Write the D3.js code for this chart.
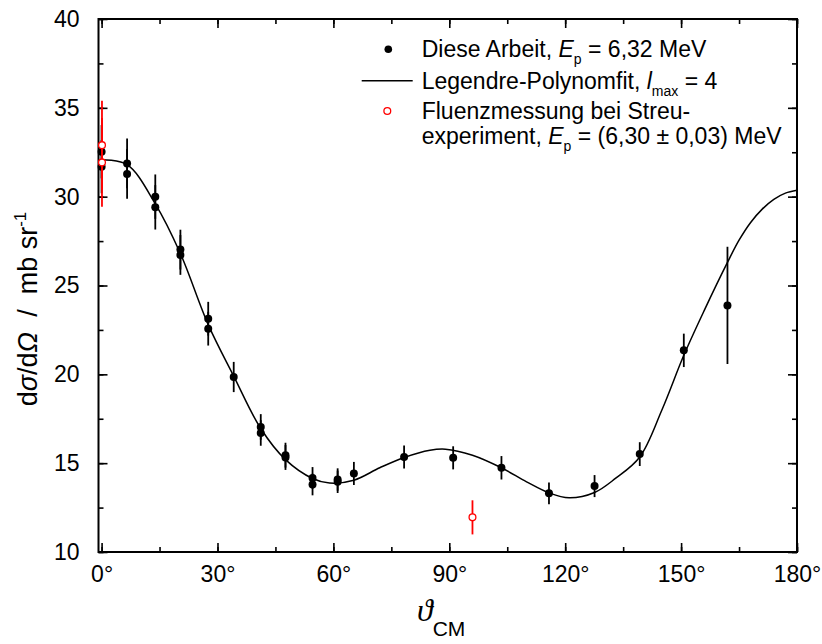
<!DOCTYPE html>
<html>
<head>
<meta charset="utf-8">
<script src="https://cdn.jsdelivr.net/npm/d3@7"></script>
<style>
  html, body { margin: 0; padding: 0; background: #fff; }
  svg { display: block; font-family: "Liberation Sans", Arial, sans-serif; }
</style>
</head>
<body>
<svg id="chart" width="822" height="644"></svg>
<script>
// Measured cross sections, this work (E_p = 6.32 MeV)
const angles = [0, 0, 6.6, 6.6, 13.9, 13.9, 20.4, 20.4, 27.6, 27.6, 34.2, 41.2, 41.2,
  47.6, 47.6, 54.6, 54.6, 61.1, 61.1, 65.3, 78.3, 91.0, 103.5, 115.8, 127.6, 139.3, 150.7, 162.0];
const values = [32.53, 31.69, 31.87, 31.28, 30.0, 29.4, 27.02, 26.72, 23.13, 22.57, 19.85, 17.04, 16.70,
  15.45, 15.32, 14.17, 13.80, 14.08, 13.95, 14.42, 15.35, 15.30, 14.74, 13.30, 13.71, 15.51, 21.35, 23.88];
const errors = [1.5, 1.5, 1.4, 1.4, 1.25, 1.25, 1.12, 1.12, 0.95, 0.95, 0.85, 0.72, 0.72,
  0.7, 0.7, 0.61, 0.61, 0.63, 0.63, 0.65, 0.65, 0.65, 0.66, 0.61, 0.62, 0.67, 0.94, 3.3];

// Fluence measurements during the scattering experiment
const fluenceAngles = [0.1, 0.1, 96.0];
const fluenceValues = [32.9, 31.93, 11.95];
const fluenceErrors = [2.5, 2.5, 0.96];

// Legendre polynomial fit (l_max = 4), sampled along the angle axis
const fitAngles = [0, 6.6, 13.9, 20.4, 27.6, 34.2, 41.2, 47.6, 54.6, 59, 65.3, 72, 78.3, 85, 89,
  96, 103.5, 110, 115.8, 121, 127.6, 133, 139.3, 145, 150.7, 156, 162, 165, 168, 171, 174, 177, 180];
const fitValues = [32.08, 31.8, 29.6, 26.8, 22.8, 19.9, 16.95, 15.2, 14.14, 13.88, 14.04, 14.74, 15.32, 15.73, 15.79,
  15.45, 14.74, 13.95, 13.33, 13.05, 13.35, 14.14, 15.35, 17.98, 21.07, 23.6, 26.3, 27.55, 28.55, 29.3, 29.85, 30.2, 30.36];

const xTicks = [0, 30, 60, 90, 120, 150, 180];
const yTicks = [10, 15, 20, 25, 30, 35, 40];

const svg = d3.select("#chart");
const plotLeft = 98.5, plotRight = 797, plotTop = 19, plotBottom = 552;

const x = d3.scaleLinear().domain([-0.8, 180]).range([plotLeft, plotRight]);
const y = d3.scaleLinear().domain([10, 40]).range([plotBottom, plotTop]);

// Axes with inward ticks on all four sides
const xMinor = d3.range(0, 181, 15);
const yMinor = d3.range(10, 40.01, 2.5);

function addTicks(axisGen, transform) {
  const g = svg.append("g").attr("transform", transform).call(axisGen);
  g.select(".domain").remove();
  g.selectAll("line").attr("stroke", "#000").attr("stroke-width", 1.6);
  return g;
}

// minor ticks
addTicks(d3.axisBottom(x).tickValues(xMinor).tickSize(-5).tickFormat(""), `translate(0,${plotBottom})`);
addTicks(d3.axisTop(x).tickValues(xMinor).tickSize(-5).tickFormat(""), `translate(0,${plotTop})`);
addTicks(d3.axisLeft(y).tickValues(yMinor).tickSize(-5).tickFormat(""), `translate(${plotLeft},0)`);
addTicks(d3.axisRight(y).tickValues(yMinor).tickSize(-5).tickFormat(""), `translate(${plotRight},0)`);

// major ticks with labels
const gx = addTicks(d3.axisBottom(x).tickValues(xTicks).tickSize(-9).tickPadding(14).tickFormat(d => d + "°"),
  `translate(0,${plotBottom})`);
gx.selectAll("text").attr("font-size", 23).attr("font-family", "Liberation Sans, Arial, sans-serif")
  .attr("fill", "#000").attr("dy", "0.71em");
addTicks(d3.axisTop(x).tickValues(xTicks).tickSize(-9).tickFormat(""), `translate(0,${plotTop})`);
const gy = addTicks(d3.axisLeft(y).tickValues(yTicks).tickSize(-9).tickPadding(19).tickFormat(d => d),
  `translate(${plotLeft},0)`);
gy.selectAll("text").attr("font-size", 23).attr("font-family", "Liberation Sans, Arial, sans-serif")
  .attr("fill", "#000");
addTicks(d3.axisRight(y).tickValues(yTicks).tickSize(-9).tickFormat(""), `translate(${plotRight},0)`);

// Frame
svg.append("rect").attr("x", plotLeft).attr("y", plotTop)
  .attr("width", plotRight - plotLeft).attr("height", plotBottom - plotTop)
  .attr("fill", "none").attr("stroke", "#000").attr("stroke-width", 2);

// Fit curve
const fit = fitAngles.map((a, i) => [a, fitValues[i]]);
svg.append("path").datum(fit)
  .attr("fill", "none").attr("stroke", "#000").attr("stroke-width", 1.5)
  .attr("d", d3.line().x(d => x(d[0])).y(d => y(d[1])).curve(d3.curveCatmullRom.alpha(0.5)));

// Measured data: error bars and dots
const pts = angles.map((a, i) => ({ a, v: values[i], e: errors[i] }));
svg.append("g").selectAll("line").data(pts).join("line")
  .attr("x1", d => x(d.a)).attr("x2", d => x(d.a))
  .attr("y1", d => y(d.v - d.e)).attr("y2", d => y(d.v + d.e))
  .attr("stroke", "#000").attr("stroke-width", 1.8);
svg.append("g").selectAll("circle").data(pts).join("circle")
  .attr("cx", d => x(d.a)).attr("cy", d => y(d.v)).attr("r", 4).attr("fill", "#000");

// Fluence points
const fpts = fluenceAngles.map((a, i) => ({ a, v: fluenceValues[i], e: fluenceErrors[i] }));
svg.append("g").selectAll("line").data(fpts).join("line")
  .attr("x1", d => x(d.a)).attr("x2", d => x(d.a))
  .attr("y1", d => y(d.v - d.e)).attr("y2", d => y(d.v + d.e))
  .attr("stroke", "#f00").attr("stroke-width", 1.8);
svg.append("g").selectAll("circle").data(fpts).join("circle")
  .attr("cx", d => x(d.a)).attr("cy", d => y(d.v)).attr("r", 3.4)
  .attr("fill", "#fff").attr("stroke", "#f00").attr("stroke-width", 1.3);

// Rich text helper: segments of [text, style] where style may be "i", "sub", "sup"
function rich(sel, segs, subSize) {
  let shift = 0;
  segs.forEach(([t, st]) => {
    const sp = sel.append("tspan").text(t);
    let target = 0;
    if (st === "sub") target = 7;
    if (st === "sup") target = -11;
    if (st === "i") sp.attr("font-style", "italic");
    if (st === "sub" || st === "sup") sp.attr("font-size", subSize);
    if (target !== shift) { sp.attr("dy", target - shift); shift = target; }
  });
}

// Legend
const lg = svg.append("g").attr("font-size", 23).attr("fill", "#000");
lg.append("circle").attr("cx", 388.3).attr("cy", 49.3).attr("r", 3.8).attr("fill", "#000");
rich(lg.append("text").attr("x", 421.7).attr("y", 57),
  [["Diese Arbeit, "], ["E", "i"], ["p", "sub"], [" = 6,32 MeV"]], 14);
lg.append("line").attr("x1", 361.7).attr("x2", 412.7).attr("y1", 80.7).attr("y2", 80.7)
  .attr("stroke", "#000").attr("stroke-width", 1.5);
rich(lg.append("text").attr("x", 421.7).attr("y", 88.5),
  [["Legendre-Polynomfit, "], ["l", "i"], ["max", "sub"], [" = 4"]], 14);
lg.append("circle").attr("cx", 387.3).attr("cy", 111).attr("r", 3.4)
  .attr("fill", "#fff").attr("stroke", "#f00").attr("stroke-width", 1.3);
lg.append("text").attr("x", 421.7).attr("y", 118.5).text("Fluenzmessung bei Streu-");
rich(lg.append("text").attr("x", 421.7).attr("y", 143.5),
  [["experiment, "], ["E", "i"], ["p", "sub"], [" = (6,30 ± 0,03) MeV"]], 14);

// Axis titles
const yt = svg.append("text").attr("transform", "translate(37,309) rotate(-90)")
  .attr("text-anchor", "middle").attr("font-size", 27).attr("fill", "#000")
  .attr("xml:space", "preserve");
rich(yt, [["d"], ["σ", "i"], ["/d"], ["Ω", "i"], ["  /  mb sr"], ["-1", "sup"]], 17);

const xt = svg.append("text").attr("x", 417).attr("y", 621).attr("fill", "#000");
xt.append("tspan").attr("font-family", "Liberation Serif, Times New Roman, serif")
  .attr("font-style", "italic").attr("font-size", 32).text("ϑ");
xt.append("tspan").attr("font-size", 21).attr("dy", 15).text("CM");
</script>
</body>
</html>
